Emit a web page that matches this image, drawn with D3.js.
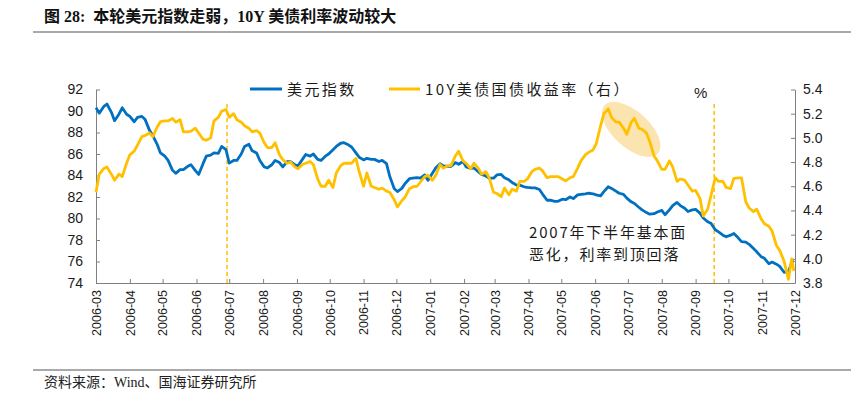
<!DOCTYPE html>
<html>
<head>
<meta charset="utf-8">
<script src="https://cdn.jsdelivr.net/npm/d3@7"></script>
<style>
  html, body { margin: 0; padding: 0; background: #fff; }
  svg { display: block; }
  .axis path, .axis line { stroke: #808080; stroke-width: 1; }
  .axis text { fill: #1a1a1a; font-family: "Liberation Sans", Arial, sans-serif; font-size: 14px; }
  .axis--x text { font-size: 12.5px; }
</style>
</head>
<body>
<div id="chart"></div>
<script>
// twice-weekly samples (Wed, Sat)
const dates = [
  "2006-03-01","2006-03-04", "2006-03-08","2006-03-11", "2006-03-15","2006-03-18", "2006-03-22","2006-03-25",
  "2006-03-29","2006-04-01", "2006-04-05","2006-04-08", "2006-04-12","2006-04-15", "2006-04-19","2006-04-22",
  "2006-04-26","2006-04-29", "2006-05-03","2006-05-06", "2006-05-10","2006-05-13", "2006-05-17","2006-05-20",
  "2006-05-24","2006-05-27", "2006-05-31","2006-06-03", "2006-06-07","2006-06-10", "2006-06-14","2006-06-17",
  "2006-06-21","2006-06-24", "2006-06-28","2006-07-01", "2006-07-05","2006-07-08", "2006-07-12","2006-07-15",
  "2006-07-19","2006-07-22", "2006-07-26","2006-07-29", "2006-08-02","2006-08-05", "2006-08-09","2006-08-12",
  "2006-08-16","2006-08-19", "2006-08-23","2006-08-26", "2006-08-30","2006-09-02", "2006-09-06","2006-09-09",
  "2006-09-13","2006-09-16", "2006-09-20","2006-09-23", "2006-09-27","2006-09-30", "2006-10-04","2006-10-07",
  "2006-10-11","2006-10-14", "2006-10-18","2006-10-21", "2006-10-25","2006-10-28", "2006-11-01","2006-11-04",
  "2006-11-08","2006-11-11", "2006-11-15","2006-11-18", "2006-11-22","2006-11-25", "2006-11-29","2006-12-02",
  "2006-12-06","2006-12-09", "2006-12-13","2006-12-16", "2006-12-20","2006-12-23", "2006-12-27","2006-12-30",
  "2007-01-03","2007-01-06", "2007-01-10","2007-01-13", "2007-01-17","2007-01-20", "2007-01-24","2007-01-27",
  "2007-01-31","2007-02-03", "2007-02-07","2007-02-10", "2007-02-14","2007-02-17", "2007-02-21","2007-02-24",
  "2007-02-28","2007-03-03", "2007-03-07","2007-03-10", "2007-03-14","2007-03-17", "2007-03-21","2007-03-24",
  "2007-03-28","2007-03-31", "2007-04-04","2007-04-07", "2007-04-11","2007-04-14", "2007-04-18","2007-04-21",
  "2007-04-25","2007-04-28", "2007-05-02","2007-05-05", "2007-05-09","2007-05-12", "2007-05-16","2007-05-19",
  "2007-05-23","2007-05-26", "2007-05-30","2007-06-02", "2007-06-06","2007-06-09", "2007-06-13","2007-06-16",
  "2007-06-20","2007-06-23", "2007-06-27","2007-06-30", "2007-07-04","2007-07-07", "2007-07-11","2007-07-14",
  "2007-07-18","2007-07-21", "2007-07-25","2007-07-28", "2007-08-01","2007-08-04", "2007-08-08","2007-08-11",
  "2007-08-15","2007-08-18", "2007-08-22","2007-08-25", "2007-08-29","2007-09-01", "2007-09-05","2007-09-08",
  "2007-09-12","2007-09-15", "2007-09-19","2007-09-22", "2007-09-26","2007-09-29", "2007-10-03","2007-10-06",
  "2007-10-10","2007-10-13", "2007-10-17","2007-10-20", "2007-10-24","2007-10-27", "2007-10-31","2007-11-03",
  "2007-11-07","2007-11-10", "2007-11-14","2007-11-17", "2007-11-21","2007-11-25", "2007-11-28","2007-11-30"
];

const usdIndex = [
  90.3, 89.8,  90.4, 90.65, 89.9, 89.1,  89.7, 90.3,
  89.7, 89.5,  89.0, 89.4,  89.5, 89.2,  88.2, 87.7,
  86.9, 86.1,  85.8, 85.4,  84.5, 84.2,  84.55, 84.55,
  84.85, 85.0, 84.45, 84.1, 85.1, 85.8,  85.9, 86.1,
  86.05, 86.7, 86.4, 85.15, 85.4, 85.4,  86.0, 86.7,
  86.9, 86.3,  86.1, 85.4,  84.8, 84.7,  85.0, 85.4,
  85.2, 84.8,  85.3, 85.3,  85.0, 84.9,  85.5, 85.95,
  85.8, 86.0,  85.5, 85.4,  85.8, 86.0,  86.4, 86.7,
  87.0, 87.05, 86.85, 86.65, 86.1, 85.7, 85.45, 85.6,
  85.5, 85.5,  85.3, 85.4,  85.1, 83.9,  82.8, 82.5,
  82.8, 83.25, 83.7, 83.75, 83.8, 83.75, 84.05, 83.55,
  84.2, 84.7,  85.1, 84.9,  84.85, 84.85, 85.2, 85.05,
  85.3, 84.8,  84.65, 84.7, 84.35, 84.1, 83.95, 83.75,
  83.75, 84.05, 84.1, 83.8, 83.6, 83.35, 83.1, 83.1,
  82.95, 82.9, 82.85, 82.85, 82.7, 82.25, 81.7, 81.7,
  81.6, 81.6,  81.8, 81.75, 82.0, 81.85, 82.2, 82.25,
  82.3, 82.35, 82.3, 82.2,  82.1, 82.5,  82.95, 82.8,
  82.55, 82.35, 82.25, 81.9, 81.55, 81.4, 81.05, 80.8,
  80.55, 80.4, 80.45, 80.6, 80.75, 80.35, 80.8, 81.2,
  81.5, 81.2,  80.95, 80.65, 80.8, 80.85, 80.5, 80.05,
  79.7, 79.55, 78.95, 78.75, 78.45, 78.3, 78.45, 78.6,
  78.2, 77.85, 77.8, 77.6,  77.2, 76.9,  76.45, 76.3,
  75.8, 75.95, 75.75, 75.55, 75.0, 75.05, 75.9, 76.1
];

const ust10y = [
  4.55, 4.70,  4.745, 4.76, 4.70, 4.65,  4.70, 4.68,
  4.79, 4.86,  4.89, 4.94,  5.01, 5.02,  5.04, 5.01,
  5.09, 5.134, 5.14, 5.14,  5.16, 5.13,  5.15, 5.05,
  5.05, 5.055, 5.08, 5.04,  4.99, 4.98,  5.00, 5.14,
  5.17, 5.22,  5.235, 5.17, 5.20, 5.15,  5.13, 5.10,
  5.08, 5.05,  5.06, 5.04,  4.96, 4.92,  4.92, 4.96,
  4.86, 4.82,  4.79, 4.80,  4.76, 4.745, 4.78, 4.79,
  4.805, 4.78, 4.66, 4.60,  4.60, 4.65,  4.59, 4.71,
  4.77, 4.79,  4.79, 4.79,  4.83, 4.72,  4.60, 4.71,
  4.60, 4.59,  4.575, 4.585, 4.56, 4.55, 4.49, 4.43,
  4.48, 4.51,  4.58, 4.594, 4.60, 4.635, 4.68, 4.69,
  4.65, 4.69,  4.78, 4.75,  4.77, 4.77,  4.85, 4.89,
  4.81, 4.79,  4.745, 4.79, 4.75, 4.70,  4.72, 4.67,
  4.55, 4.54,  4.514, 4.585, 4.53, 4.575, 4.56, 4.64,
  4.64, 4.66,  4.72, 4.74,  4.75, 4.725, 4.67, 4.68,
  4.68, 4.68,  4.66, 4.645, 4.67, 4.68,  4.75, 4.81,
  4.86, 4.88,  4.90, 4.95,  5.10, 5.20,  5.24, 5.17,
  5.13, 5.13,  5.08, 5.03,  5.13, 5.16,  5.08, 5.07,
  5.04, 4.97,  4.85, 4.81,  4.74, 4.74,  4.81, 4.76,
  4.64, 4.66,  4.65, 4.61,  4.56, 4.565, 4.50, 4.355,
  4.41, 4.52,  4.67, 4.64,  4.64, 4.59,  4.58, 4.665,
  4.67, 4.67,  4.47, 4.42,  4.39, 4.41,  4.33, 4.29,
  4.27, 4.23,  4.11, 4.07,  3.98, 3.83,  4.00, 3.90
];

const leftTicks = [74, 76, 78, 80, 82, 84, 86, 88, 90, 92];
const rightTicks = [3.8, 4.0, 4.2, 4.4, 4.6, 4.8, 5.0, 5.2, 5.4];
const monthLabels = [
  "2006-03","2006-04","2006-05","2006-06","2006-07","2006-08","2006-09",
  "2006-10","2006-11","2006-12","2007-01","2007-02","2007-03","2007-04",
  "2007-05","2007-06","2007-07","2007-08","2007-09","2007-10","2007-11","2007-12"
];
const eventDates = ["2006-06-29", "2007-09-18"];
const seriesNames = ["美元指数", "10Y美债国债收益率（右）"];

const width = 861, height = 398;
const plot = { left: 96, right: 795, top: 89.5, bottom: 283 };
const blue = "#0070C0", gold = "#FFC000";

const parse = d3.timeParse("%Y-%m-%d");
const parseMonth = d3.timeParse("%Y-%m");
const data = dates.map((d, i) => ({ date: parse(d), usd: usdIndex[i], ust: ust10y[i] }));

const svg = d3.select("#chart").append("svg")
  .attr("width", width)
  .attr("height", height);

// title + rules
svg.append("text")
  .attr("x", 44).attr("y", 22)
  .style("font-family", "'Liberation Serif', 'Noto Sans CJK SC', serif")
  .style("font-weight", "bold")
  .style("font-size", "16px")
  .attr("fill", "#111")
  .attr("xml:space", "preserve")
  .text("图 28:  本轮美元指数走弱，10Y 美债利率波动较大");

svg.append("line").attr("x1", 33).attr("x2", 851).attr("y1", 32).attr("y2", 32)
  .attr("stroke", "#555").attr("stroke-width", 1);
svg.append("line").attr("x1", 33).attr("x2", 851).attr("y1", 370).attr("y2", 370)
  .attr("stroke", "#555").attr("stroke-width", 1);

svg.append("text")
  .attr("x", 44).attr("y", 387)
  .style("font-family", "'Liberation Serif', 'Noto Sans CJK SC', serif")
  .style("font-size", "14px")
  .attr("fill", "#222")
  .text("资料来源：Wind、国海证券研究所");

const x = d3.scaleTime()
  .domain([parse("2006-03-01"), parse("2007-12-01")])
  .range([plot.left, plot.right]);
const yL = d3.scaleLinear().domain([74, 92]).range([plot.bottom, plot.top]);
const yR = d3.scaleLinear().domain([3.8, 5.4]).range([plot.bottom, plot.top]);

// highlight ellipse behind the yield peak
const ec = { date: parse("2007-07-04"), value: 5.07 };
svg.append("ellipse")
  .attr("cx", 0).attr("cy", 0)
  .attr("rx", 36).attr("ry", 18)
  .attr("transform", `translate(${x(ec.date)},${yR(ec.value)}) rotate(42)`)
  .attr("fill", "#F9D27A")
  .attr("opacity", 0.6);

// axes
svg.append("g")
  .attr("class", "axis axis--y")
  .attr("transform", `translate(${plot.left},0)`)
  .call(d3.axisLeft(yL).tickValues(leftTicks).tickSize(-4).tickSizeOuter(0).tickPadding(13));

svg.append("g")
  .attr("class", "axis axis--y2")
  .attr("transform", `translate(${plot.right},0)`)
  .call(d3.axisRight(yR).tickValues(rightTicks).tickSize(-4).tickSizeOuter(0).tickPadding(8)
    .tickFormat(d3.format(".1f")));

const xAxis = svg.append("g")
  .attr("class", "axis axis--x")
  .attr("transform", `translate(0,${plot.bottom})`)
  .call(d3.axisBottom(x).tickValues(monthLabels.map(m => parseMonth(m)))
    .tickSize(-4).tickSizeOuter(0)
    .tickFormat((d, i) => monthLabels[i]));

xAxis.selectAll("text")
  .attr("transform", "rotate(-90)")
  .attr("text-anchor", "end")
  .attr("x", -7)
  .attr("y", 0)
  .attr("dy", "0.35em");

// event lines
eventDates.forEach(d => {
  svg.append("line")
    .attr("x1", x(parse(d))).attr("x2", x(parse(d)))
    .attr("y1", 104).attr("y2", plot.bottom)
    .attr("stroke", gold)
    .attr("stroke-width", 1.5)
    .attr("stroke-dasharray", "4,3");
});

// lines
const usdLine = d3.line().x(d => x(d.date)).y(d => yL(d.usd));
const ustLine = d3.line().x(d => x(d.date)).y(d => yR(d.ust));

svg.append("path")
  .datum(data)
  .attr("fill", "none")
  .attr("stroke", blue)
  .attr("stroke-width", 2.8)
  .attr("stroke-linejoin", "round")
  .attr("d", usdLine);

svg.append("path")
  .datum(data)
  .attr("fill", "none")
  .attr("stroke", gold)
  .attr("stroke-width", 2.8)
  .attr("stroke-linejoin", "round")
  .attr("d", ustLine);

// legend
const legendFont = "'Noto Sans CJK SC', 'Liberation Sans', sans-serif";
const legend = [
  { x1: 250, x2: 282, tx: 287, color: blue, name: seriesNames[0] },
  { x1: 389, x2: 420, tx: 425, color: gold, name: seriesNames[1] }
];
legend.forEach(l => {
  svg.append("line")
    .attr("x1", l.x1).attr("x2", l.x2).attr("y1", 89).attr("y2", 89)
    .attr("stroke", l.color).attr("stroke-width", 3);
  svg.append("text")
    .attr("x", l.tx).attr("y", 95)
    .style("font-family", legendFont)
    .style("font-size", "15px")
    .style("letter-spacing", "2.4px")
    .attr("fill", "#1a1a1a")
    .text(l.name);
});

svg.append("text")
  .attr("x", 694).attr("y", 98)
  .style("font-family", "'Liberation Sans', sans-serif")
  .style("font-size", "15px")
  .attr("fill", "#1a1a1a")
  .text("%");

// annotation
const note = ["2007年下半年基本面", "恶化，利率到顶回落"];
note.forEach((t, i) => {
  svg.append("text")
    .attr("x", 529).attr("y", 238 + i * 22)
    .style("font-family", legendFont)
    .style("font-size", "15px")
    .style("letter-spacing", "1.8px")
    .attr("fill", "#1a1a1a")
    .text(t);
});
</script>
</body>
</html>
